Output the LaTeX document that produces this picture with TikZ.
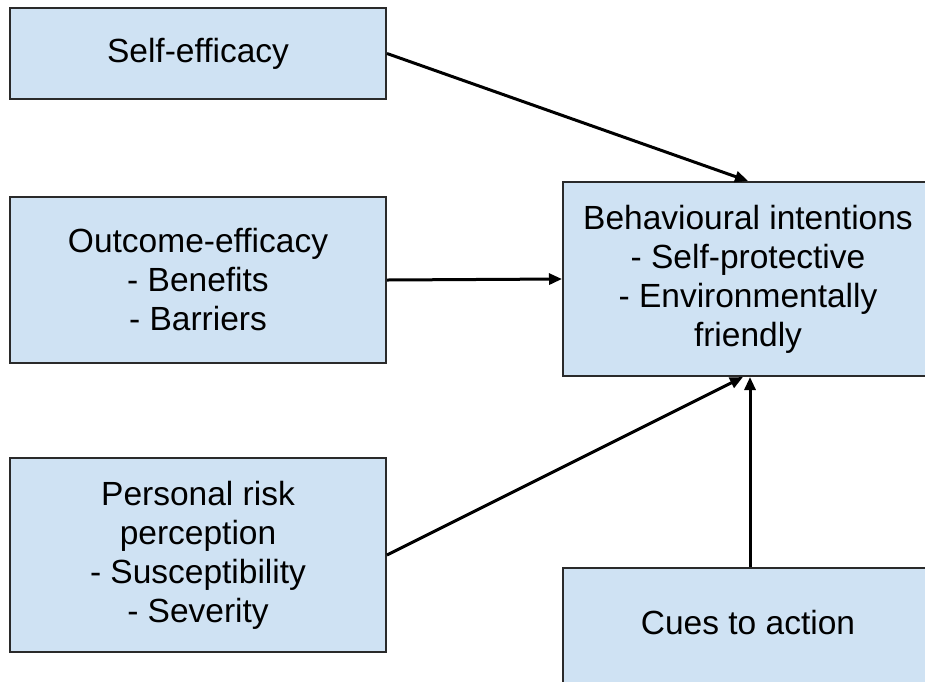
\documentclass[tikz,border=0pt]{standalone}
\usepackage{fontspec}
\setmainfont{Liberation Sans}
\usetikzlibrary{arrows.meta}
\definecolor{boxfill}{HTML}{CFE2F3}
\definecolor{boxline}{HTML}{2A2A2A}
\tikzset{
  box/.style={draw=boxline, line width=2pt, fill=boxfill, rectangle, align=center,
    inner sep=0pt, font=\fontsize{33.5}{39}\selectfont},
  arr/.style={line width=3pt, -{Triangle[length=13pt,width=11pt]}}
}
\begin{document}
\begin{tikzpicture}[x=1pt,y=-1pt]
\useasboundingbox (0,0) rectangle (925,681);
\begin{scope}
\clip (0,0) rectangle (925,681);
\node[box, minimum width=376pt, minimum height=91pt] (self) at (198,53.5) {Self-efficacy};
\node[box, minimum width=376pt, minimum height=166pt] (outc) at (198,280) {Outcome-efficacy\\- Benefits\\- Barriers};
\node[box, minimum width=376pt, minimum height=194pt] (risk) at (198,555) {Personal risk\\perception\\- Susceptibility\\- Severity};
\node[box, minimum width=370pt, minimum height=194pt] (behav) at (748,279) {Behavioural intentions\\- Self-protective\\- Environmentally\\friendly};
\node[box, minimum width=370pt, minimum height=144pt] (cues) at (748,640) {\raisebox{36pt}{Cues to action}};
\end{scope}
\draw[arr] (self.east) -- (behav.north);
\draw[arr] (outc.east) -- (behav.west);
\draw[arr] (risk.east) -- ([xshift=-5pt]behav.south);
\draw[arr] ([xshift=2pt]cues.north) -- ([xshift=2pt]behav.south);
\end{tikzpicture}
\end{document}
